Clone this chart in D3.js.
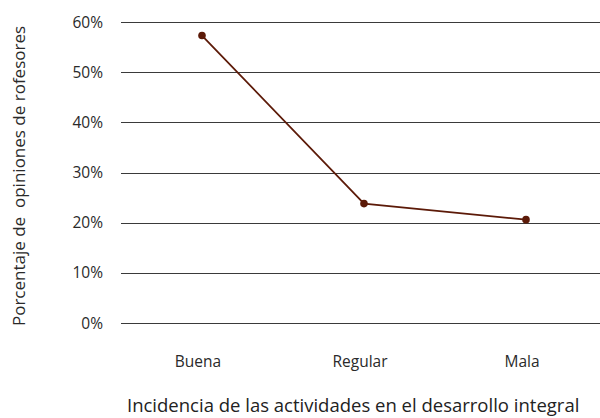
<!DOCTYPE html>
<html><head><meta charset="utf-8">
<script src="https://cdn.jsdelivr.net/npm/d3@7"></script>
<style>body{margin:0;background:#fff;} svg{display:block;font-family:"Open Sans",sans-serif;}</style>
</head><body>
<script>
const categories = ["Buena", "Regular", "Mala"];
const values = [57.3, 23.8, 20.6];
const yTicks = [0, 10, 20, 30, 40, 50, 60];
const xTitle = "Incidencia de las actividades en el desarrollo integral";
const yTitle = "Porcentaje de\u00a0 opiniones de rofesores";

const W = 600, H = 418;
const m = {left: 121, right: -7, top: 22, bottom: 95};
const svg = d3.select("body").append("svg").attr("width", W).attr("height", H);
const x = d3.scaleBand().domain(categories).range([m.left, W - m.right]);
const y = d3.scaleLinear().domain([0, 60]).range([H - m.bottom, m.top]);

const g = svg.append("g");
g.selectAll("line.grid").data(yTicks).join("line").attr("class","grid")
  .attr("x1", m.left).attr("x2", W).attr("y1", d => Math.round(y(d)) + 0.5).attr("y2", d => Math.round(y(d)) + 0.5)
  .attr("stroke", "#3a3a3a").attr("stroke-width", 1);
g.selectAll("text.yt").data(yTicks).join("text").attr("class","yt")
  .attr("x", 103).attr("y", d => y(d)).attr("dy", "0.36em").attr("text-anchor", "end")
  .attr("font-size", 15.5).attr("fill", "#2a2a2a").text(d => d + "%");
g.selectAll("text.xt").data(categories).join("text").attr("class","xt")
  .attr("x", d => x(d) + x.bandwidth()/2 - 4).attr("y", 367).attr("text-anchor", "middle")
  .attr("font-size", 15.5).attr("fill", "#2a2a2a").text(d => d);

const line = d3.line().x((d,i) => x(categories[i]) + x.bandwidth()/2).y(d => y(d));
g.append("path").datum(values).attr("d", line).attr("fill", "none").attr("stroke", "#5c1a08").attr("stroke-width", 1.8);
g.selectAll("circle").data(values).join("circle")
  .attr("cx", (d,i) => x(categories[i]) + x.bandwidth()/2).attr("cy", d => y(d)).attr("r", 3.8).attr("fill", "#5c1a08");

svg.append("text").attr("x", 127).attr("y", 412).attr("font-size", 18.5).attr("fill", "#222").text(xTitle);
svg.append("text").attr("transform", "translate(25,176) rotate(-90)").attr("text-anchor", "middle")
  .attr("font-size", 17).attr("fill", "#2a2a2a").text(yTitle);
</script>
</body></html>
